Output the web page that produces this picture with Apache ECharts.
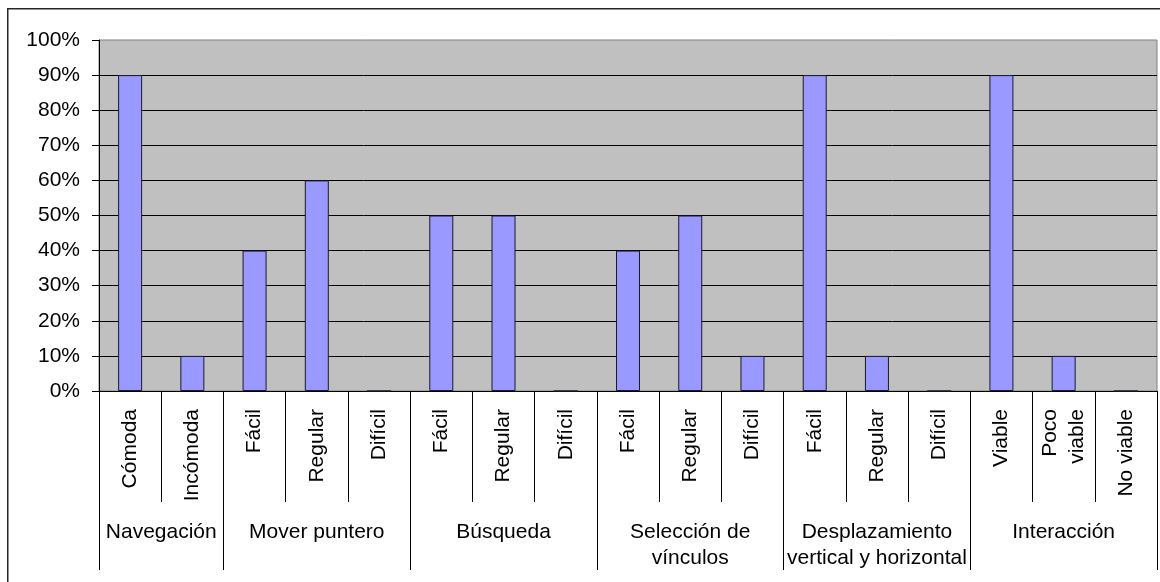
<!DOCTYPE html>
<html>
<head>
<meta charset="utf-8">
<script src="https://cdn.jsdelivr.net/npm/echarts@6/dist/echarts.min.js"></script>
<style>
  html, body { margin: 0; padding: 0; background: #fff; }
  #chart { width: 1160px; height: 582px; }
</style>
</head>
<body>
<div id="chart"></div>
<script>
// Answer options for each evaluated aspect
const subCategories = [
  'Cómoda', 'Incómoda',
  'Fácil', 'Regular', 'Difícil',
  'Fácil', 'Regular', 'Difícil',
  'Fácil', 'Regular', 'Difícil',
  'Fácil', 'Regular', 'Difícil',
  'Viable', 'Poco\nviable', 'No viable'
];
// Aspect groups and how many answer options each one holds
const groupNames = [
  'Navegación', 'Mover puntero', 'Búsqueda',
  'Selección de\nvínculos', 'Desplazamiento\nvertical y horizontal', 'Interacción'
];
const groupSizes = [2, 3, 3, 3, 3, 3];
// Share of users per answer (%)
const percentages = [90, 10, 40, 60, 0, 50, 50, 0, 40, 50, 10, 90, 10, 0, 90, 10, 0];
// Y axis range and step (%)
const yMin = 0, yMax = 100, yStep = 10;

// Group axis: half-category slots so that group centres and group
// boundaries both fall on axis points (boundaryGap: false)
const slotCount = subCategories.length * 2 + 1;
const groupSlots = new Array(slotCount).fill('');
const boundarySlots = new Set([0]);
let pos = 0;
groupNames.forEach((name, i) => {
  groupSlots[pos * 2 + groupSizes[i]] = name;
  pos += groupSizes[i];
  boundarySlots.add(pos * 2);
});

const font = '"Liberation Sans", Arial, sans-serif';
const chart = echarts.init(document.getElementById('chart'), null, { renderer: 'canvas' });

chart.setOption({
  animation: false,
  backgroundColor: '#fff',
  textStyle: { fontFamily: font },
  graphic: [{
    type: 'rect',
    shape: { x: 7.75, y: 8.75, width: 1400, height: 800 },
    style: { fill: 'none', stroke: '#262626', lineWidth: 1.5 },
    silent: true
  }],
  grid: {
    left: 99, right: 2, top: 40, bottom: 191,
    show: true, backgroundColor: '#C0C0C0', borderColor: '#808080', borderWidth: 1
  },
  xAxis: [{
    type: 'category',
    data: subCategories,
    position: 'bottom',
    axisLine: { lineStyle: { color: '#000', width: 1 } },
    axisTick: { show: true, length: 111, lineStyle: { color: '#000', width: 1 } },
    axisLabel: {
      interval: 0, rotate: 90, margin: 18,
      fontFamily: font, fontSize: 21, color: '#000', lineHeight: 27
    },
    splitLine: { show: false }
  }, {
    type: 'category',
    data: groupSlots,
    boundaryGap: false,
    position: 'bottom',
    axisLine: { show: false },
    axisTick: {
      show: true, length: 179,
      interval: (index) => boundarySlots.has(index),
      lineStyle: { color: '#000', width: 1 }
    },
    axisLabel: {
      interval: 0, margin: 128,
      fontFamily: font, fontSize: 21, color: '#000', lineHeight: 26
    },
    splitLine: { show: false }
  }],
  yAxis: {
    type: 'value',
    min: yMin, max: yMax, interval: yStep,
    axisLine: { show: true, lineStyle: { color: '#000', width: 1 } },
    axisTick: { show: true, length: 7, lineStyle: { color: '#000' } },
    axisLabel: {
      formatter: '{value}%', margin: 19,
      fontFamily: font, fontSize: 21, color: '#000'
    },
    splitLine: { show: true, showMaxLine: false, lineStyle: { color: '#000', width: 1 } }
  },
  series: [{
    type: 'bar',
    xAxisIndex: 0,
    data: percentages,
    barWidth: 24,
    itemStyle: { color: '#9999FF', borderColor: '#1a1a2e', borderWidth: 1 }
  }]
});
</script>
</body>
</html>
